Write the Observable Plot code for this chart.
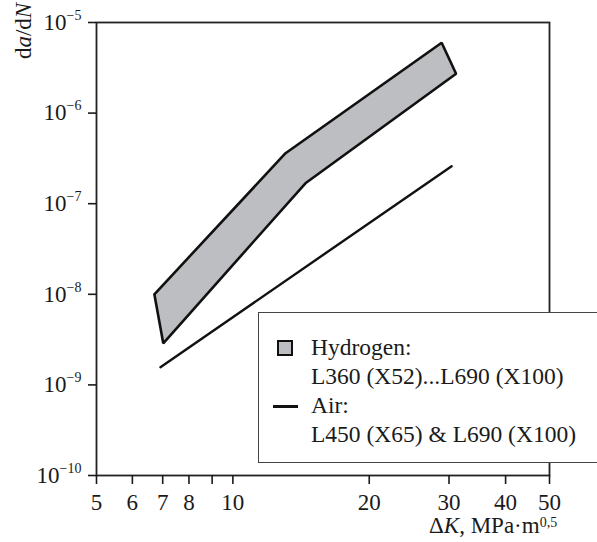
<!DOCTYPE html>
<html>
<head>
<meta charset="utf-8">
<script src="https://cdn.jsdelivr.net/npm/d3@7"></script>
<script src="https://cdn.jsdelivr.net/npm/@observablehq/plot@0.6"></script>
<style>
  html, body { margin: 0; padding: 0; background: #fff; overflow: hidden; }
  #wrap { position: relative; width: 597px; height: 542px; font-family: 'Liberation Serif', 'Times New Roman', serif; color: #1a1a1a; }
  #legend { position: absolute; left: 258px; top: 312px; width: 360px; height: 151px; border: 1.5px solid #444; background: #fff; box-sizing: border-box; }
  #legend .sw { position: absolute; left: 18px; top: 27px; width: 16px; height: 16px; background: #bdbec2; border: 2px solid #111; box-sizing: border-box; }
  #legend .ln { position: absolute; left: 14px; top: 92px; width: 25px; height: 2.5px; background: #111; }
  #legend .txt { position: absolute; left: 52px; top: 20px; font-size: 23.5px; line-height: 29px; white-space: nowrap; }
</style>
</head>
<body>
<div id="wrap"></div>
<script>
// Hydrogen band (polygon outline), ΔK in MPa·m^0.5, da/dN
const hydroX = [6.71, 7.02, 14.46, 31.1, 28.9, 13.07];
const hydroY = [1.0e-8, 2.88e-9, 1.68e-7, 2.72e-6, 5.97e-6, 3.61e-7];
// Air line
const airX = [6.92, 30.4];
const airY = [1.57e-9, 2.59e-7];
// Ticks
const xTicks = [5, 6, 7, 8, 9, 10, 20, 30, 40, 50];
const xTickLabels = ["5", "6", "7", "8", "", "10", "20", "30", "40", "50"];
const yTicks = [1e-10, 1e-9, 1e-8, 1e-7, 1e-6, 1e-5];
const yExponents = ["−10", "−9", "−8", "−7", "−6", "−5"];
// Legend texts
const legendLines = ["Hydrogen:", "L360 (X52)...L690 (X100)", "Air:", "L450 (X65) &amp; L690 (X100)"];

const hydro = hydroX.map((x, i) => ({x, y: hydroY[i]}));
hydro.push(hydro[0]);
const air = airX.map((x, i) => ({x, y: airY[i]}));

const plot = Plot.plot({
  width: 597,
  height: 542,
  marginLeft: 96,
  marginRight: 48,
  marginTop: 22,
  marginBottom: 67,
  style: {fontFamily: "'Liberation Serif', 'Times New Roman', serif", fontSize: "23px", color: "#1a1a1a", background: "#fff"},
  x: {type: "log", domain: [5, 50]},
  y: {type: "log", domain: [1e-10, 1e-5]},
  marks: [
    Plot.frame({stroke: "#222", strokeWidth: 1.8}),
    Plot.line(hydro, {x: "x", y: "y", fill: "#bdbec2", stroke: "#111", strokeWidth: 2.6, strokeLinejoin: "miter"}),
    Plot.line(air, {x: "x", y: "y", stroke: "#111", strokeWidth: 2.4}),
    Plot.axisX({ticks: xTicks, tickSize: 9, tickPadding: 9, strokeWidth: 1.6, tickFormat: d => xTickLabels[xTicks.indexOf(d)] ?? "", label: null}),
    Plot.axisY({ticks: yTicks, tickSize: 8, tickPadding: 7, strokeWidth: 1.6, tickFormat: () => "10", label: null})
  ]
});

// superscript exponents on y tick labels
const ylabels = plot.querySelectorAll('g[aria-label="y-axis tick label"] text');
ylabels.forEach((t, i) => {
  const v = t.__data__;
  const idx = yTicks.findIndex(k => Math.abs(Math.log10(k) - Math.log10(v)) < 1e-6);
  const sup = document.createElementNS("http://www.w3.org/2000/svg", "tspan");
  sup.setAttribute("dy", "-10");
  sup.setAttribute("font-size", "14");
  sup.textContent = yExponents[idx >= 0 ? idx : i];
  t.appendChild(sup);
});

const svg = d3.select(plot);
// y axis title
const yt = svg.append("text")
  .attr("transform", "translate(31,31) rotate(-90)")
  .attr("text-anchor", "middle")
  .attr("fill", "#1a1a1a");
yt.append("tspan").text("d");
yt.append("tspan").attr("font-style", "italic").text("a");
yt.append("tspan").text("/d");
yt.append("tspan").attr("font-style", "italic").text("N");
// x axis title
const xt = svg.append("text")
  .attr("x", 429).attr("y", 533)
  .attr("text-anchor", "start")
  .attr("fill", "#1a1a1a");
xt.append("tspan").text("Δ");
xt.append("tspan").attr("font-style", "italic").text("K");
xt.append("tspan").text(", MPa·m");
xt.append("tspan").attr("dy", -6).attr("font-size", 14).text("0,5");

const wrap = document.getElementById("wrap");
wrap.appendChild(plot);
const legend = document.createElement("div");
legend.id = "legend";
legend.innerHTML = '<div class="sw"></div><div class="ln"></div><div class="txt">' + legendLines.join("<br>") + '</div>';
wrap.appendChild(legend);
</script>
</body>
</html>
